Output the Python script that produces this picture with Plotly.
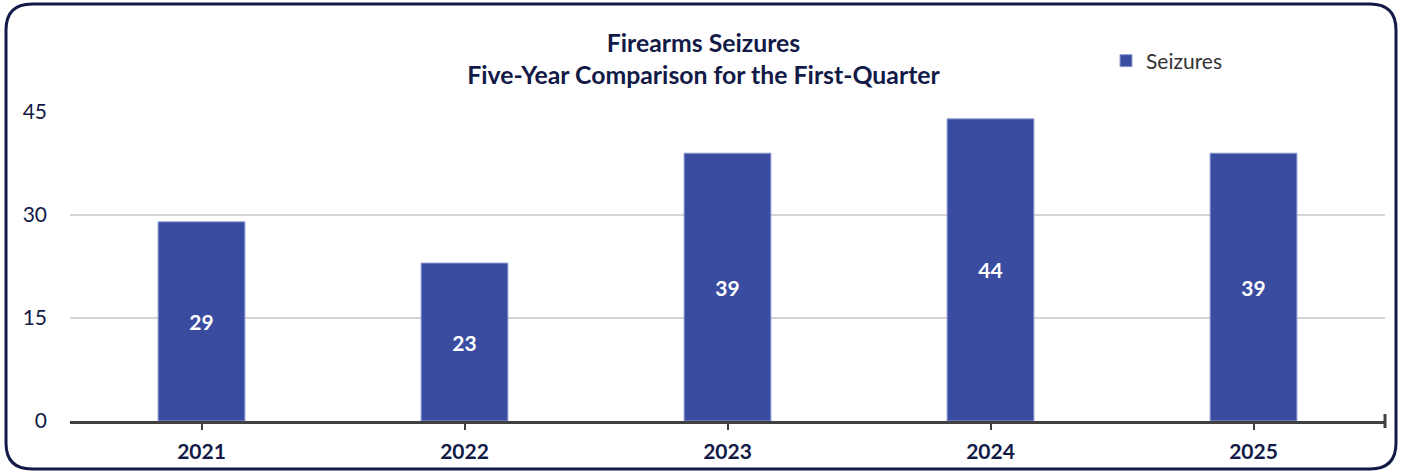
import plotly.graph_objects as go

years = ["2021", "2022", "2023", "2024", "2025"]
seizures = [29, 23, 39, 44, 39]
y_ticks = [0, 15, 30, 45]
series_name = "Seizures"
title_lines = ["Firearms Seizures", "Five-Year Comparison for the First-Quarter"]

W, H = 1407, 472
ML, MR, MT, MB = 70, 22, 112, 51
PW, PH = W - ML - MR, H - MT - MB

def px(x):
    return (x - ML) / PW

def py(y):
    return (H - MB - y) / PH

navy = "#121a47"
bar_color = "#3a4ca0"
font = "Lato"

fig = go.Figure()
fig.add_trace(go.Bar(
    x=years, y=seizures, name=series_name,
    marker=dict(color=bar_color, line=dict(color="#8e9bd3", width=1)),
    width=0.33,
    text=seizures, textposition="inside", insidetextanchor="middle",
    textfont=dict(family=font, size=21, color="white", weight="bold"),
    textangle=0,
    showlegend=True,
))

# rounded border
l, r, t, b, rad = 6, 1396, 4, 469, 26
path = (
    f"M {px(l+rad)},{py(t)} L {px(r-rad)},{py(t)} "
    f"Q {px(r)},{py(t)} {px(r)},{py(t+rad)} "
    f"L {px(r)},{py(b-rad)} Q {px(r)},{py(b)} {px(r-rad)},{py(b)} "
    f"L {px(l+rad)},{py(b)} Q {px(l)},{py(b)} {px(l)},{py(b-rad)} "
    f"L {px(l)},{py(t+rad)} Q {px(l)},{py(t)} {px(l+rad)},{py(t)} Z"
)
shapes = [
    dict(type="path", path=path, xref="paper", yref="paper",
         line=dict(color=navy, width=3), layer="above"),
    dict(type="line", xref="paper", yref="paper", x0=1, x1=1,
         y0=py(428), y1=py(414), line=dict(color="#404040", width=3)),
]

fig.update_layout(
    width=W, height=H,
    margin=dict(l=ML, r=MR, t=MT, b=MB, autoexpand=False),
    paper_bgcolor="white", plot_bgcolor="white",
    title=dict(
        text="<b>" + title_lines[0] + "</b><br><b>" + title_lines[1] + "</b>",
        x=0.5, xanchor="center", xref="container",
        y=1 - 52 / H, yanchor="middle", yref="container",
        font=dict(family=font, size=24.8, color=navy),
    ),
    legend=dict(
        x=px(1106), y=py(61), xanchor="left", yanchor="middle",
        orientation="h", bgcolor="rgba(0,0,0,0)",
        font=dict(family=font, size=21, color="#333333"),
        itemwidth=30,
    ),
    bargap=0.67,
    shapes=shapes,
    xaxis=dict(
        type="category", showgrid=False, automargin=False,
        showline=True, linecolor="#404040", linewidth=3,
        ticks="outside", ticklen=6, tickwidth=2, tickcolor="#404040",
        tickfont=dict(family=font, size=21, color=navy, weight="bold"),
        ticklabelstandoff=4,
        zeroline=False,
    ),
    yaxis=dict(
        range=[0, 45], tickvals=y_ticks, automargin=False,
        showgrid=True, gridcolor="#d4d4d4", gridwidth=2,
        showline=False, zeroline=False, ticks="",
        tickfont=dict(family=font, size=21, color=navy),
        ticklabelstandoff=22,
    ),
)

fig.write_html("out.html", config={"displayModeBar": False},
               post_script="document.body.style.margin='0';document.body.style.padding='0';")
